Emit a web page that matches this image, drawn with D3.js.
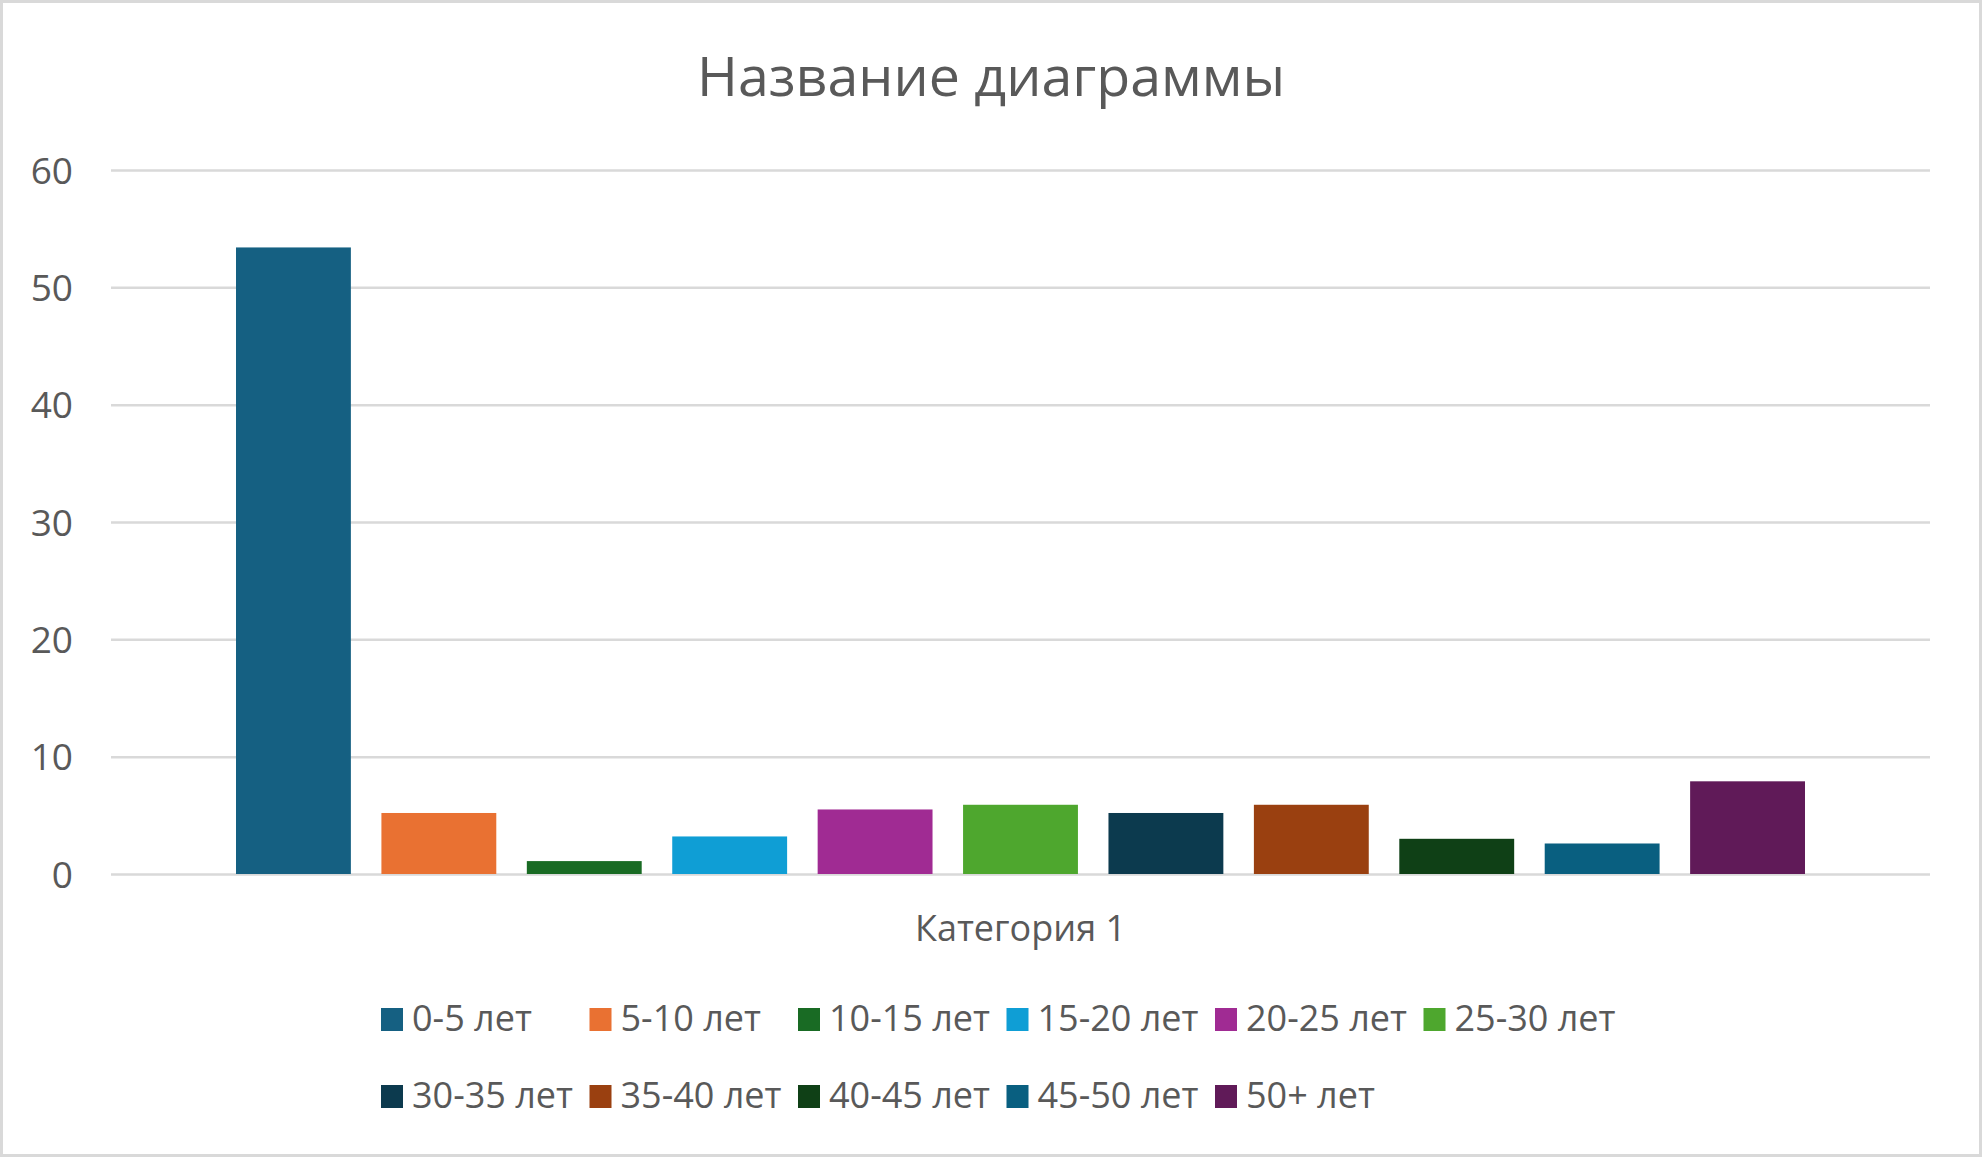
<!DOCTYPE html>
<html><head><meta charset="utf-8">
<script src="https://cdn.jsdelivr.net/npm/d3@7"></script>
<style>body{margin:0;background:#fff}svg{display:block}text{font-family:"Open Sans",sans-serif;fill:#595959}</style>
</head><body>
<script>
const title = "Название диаграммы";
const categories = ["Категория 1"];
const seriesNames = ["0-5 лет","5-10 лет","10-15 лет","15-20 лет","20-25 лет","25-30 лет","30-35 лет","35-40 лет","40-45 лет","45-50 лет","50+ лет"];
const seriesValues = [53.4, 5.2, 1.1, 3.2, 5.5, 5.9, 5.2, 5.9, 3.0, 2.6, 7.9];
const seriesColors = ["#156082","#E97132","#196B24","#0F9ED5","#A02B93","#4EA72E","#0C3A4E","#9A4010","#0F4016","#095F80","#601A58"];
const yTicks = [0,10,20,30,40,50,60];

const W = 1982, H = 1157;
const svg = d3.select("body").append("svg").attr("width", W).attr("height", H);
svg.append("rect").attr("x",1.5).attr("y",1.5).attr("width",W-3).attr("height",H-3)
  .attr("fill","#fff").attr("stroke","#d9d9d9").attr("stroke-width",3);

const plot = {left:111, right:1930, top:170, bottom:874};
const y = d3.scaleLinear().domain([0,60]).range([plot.bottom, plot.top]);
const x0 = d3.scaleBand().domain(categories).range([plot.left, plot.right]).paddingOuter(0.0);
const x1 = d3.scaleBand().domain(seriesNames).range([236, 1805]).paddingInner(0.21).paddingOuter(0);

// gridlines
const yAxis = d3.axisLeft(y).tickValues(yTicks).tickSize(-(plot.right-plot.left)).tickPadding(38).tickFormat(d3.format("d"));
const ga = svg.append("g").attr("transform",`translate(${plot.left},0)`).call(yAxis);
ga.select(".domain").remove();
ga.selectAll(".tick line").attr("stroke","#d9d9d9").attr("stroke-width",2.5);
ga.selectAll(".tick text").style("font-size","37px").attr("fill","#595959").attr("dy","0.36em");

// bars
svg.append("g").selectAll("rect").data(seriesNames).join("rect")
  .attr("x", d => x1(d))
  .attr("y", (d,i) => y(seriesValues[i]))
  .attr("width", x1.bandwidth())
  .attr("height", (d,i) => y(0) - y(seriesValues[i]))
  .attr("fill", (d,i) => seriesColors[i]);

// category label
svg.append("text").attr("x", x0(categories[0]) + x0.bandwidth()/2).attr("y", 941)
  .attr("text-anchor","middle").style("font-size","36px").text(categories[0]);

// title
svg.append("text").attr("x", W/2).attr("y", 96).attr("text-anchor","middle")
  .style("font-size","55.5px").text(title);

// legend
const cols = 6, colW = 208.5, rowH = 77, lx = 381, ly = 1031;
const lg = svg.append("g").selectAll("g").data(seriesNames).join("g")
  .attr("transform",(d,i)=>`translate(${lx + (i%cols)*colW},${ly + Math.floor(i/cols)*rowH})`);
lg.append("rect").attr("x",0).attr("y",-23).attr("width",22).attr("height",23).attr("fill",(d,i)=>seriesColors[i]);
lg.append("text").attr("x",31).attr("y",0).style("font-size","36px").text(d=>d);
</script>
</body></html>
